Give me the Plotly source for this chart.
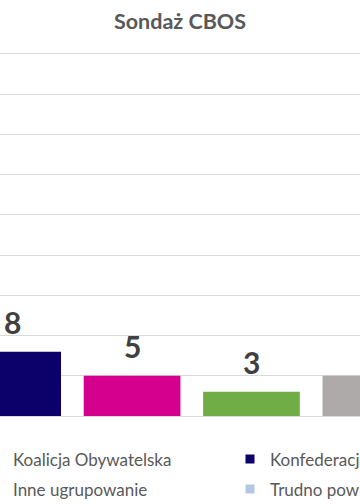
import plotly.graph_objects as go

# ---- data ----
title_text = "Sondaż CBOS"
bar_parties = ["Konfederacja", "Lewica", "PSL", "Inne ugrupowanie"]
bar_values = [8, 5, 3, 5]
bar_colors = ["#0C006B", "#D6008F", "#70AD47", "#AEAAAA"]

legend_names = ["Koalicja Obywatelska", "Inne ugrupowanie", "Konfederacja", "Trudno powiedzieć"]
legend_colors = ["#ED7D31", "#AEAAAA", "#0C006B", "#B4C7E7"]

y_max = 45
y_step = 5

FONT = "Lato"
TXT = "#595959"
GRID = "#D9D9D9"

fig = go.Figure()

fig.add_trace(go.Bar(
    x=bar_parties, y=bar_values,
    marker=dict(color=bar_colors, line=dict(width=0)),
    showlegend=False, hoverinfo="skip",
))

# value labels
for p, v in zip(bar_parties, bar_values):
    fig.add_annotation(x=p, y=v, text=str(v), showarrow=False,
                       xanchor="center", yanchor="bottom", yshift=10,
                       font=dict(family=FONT, size=30, color="#404040", weight="bold"))

# legend entries (four single-entry legends laid out as a 2x2 grid)
legend_ids = ["legend", "legend2", "legend3", "legend4"]
for name, col, lid in zip(legend_names, legend_colors, legend_ids):
    fig.add_trace(go.Scatter(
        x=[None], y=[None], mode="markers", name=name, legend=lid,
        marker=dict(symbol="square", size=9, color=col),
        hoverinfo="skip",
    ))

plot_top, plot_bot = 54, 416
ph = plot_bot - plot_top

def ypaper(py):
    return (plot_bot - py) / ph

def xpaper(text_start):
    return (text_start - 40) / 360

leg_font = dict(family=FONT, size=17, color=TXT)
common = dict(orientation="v", xanchor="left", yanchor="middle",
              bgcolor="rgba(0,0,0,0)", borderwidth=0, font=leg_font)

fig.update_layout(
    width=360, height=504,
    margin=dict(l=0, r=0, t=plot_top, b=504 - plot_bot, autoexpand=False),
    paper_bgcolor="white", plot_bgcolor="white",
    title=dict(text=title_text, x=0.5, xanchor="center", xref="paper",
               y=1 - 21 / 504, yanchor="middle", yref="container",
               font=dict(family=FONT, size=21.5, color=TXT, weight="bold")),
    bargap=0.19,
    xaxis=dict(range=[-0.106, 2.909], showticklabels=False, showgrid=False,
               ticks="", zeroline=False, showline=True, mirror=True,
               linecolor=GRID, linewidth=1, fixedrange=True),
    yaxis=dict(range=[0, y_max], dtick=y_step, tick0=0, showticklabels=False,
               showgrid=True, gridcolor=GRID, gridwidth=1,
               zeroline=True, zerolinecolor=GRID, zerolinewidth=1,
               ticks="", showline=False, fixedrange=True),
    legend=dict(x=xpaper(13), y=ypaper(459.5), **common),
    legend2=dict(x=xpaper(13), y=ypaper(489.5), **common),
    legend3=dict(x=xpaper(270), y=ypaper(459.5), **common),
    legend4=dict(x=xpaper(270), y=ypaper(489.5), **common),
)

fig.write_html("out.html")
